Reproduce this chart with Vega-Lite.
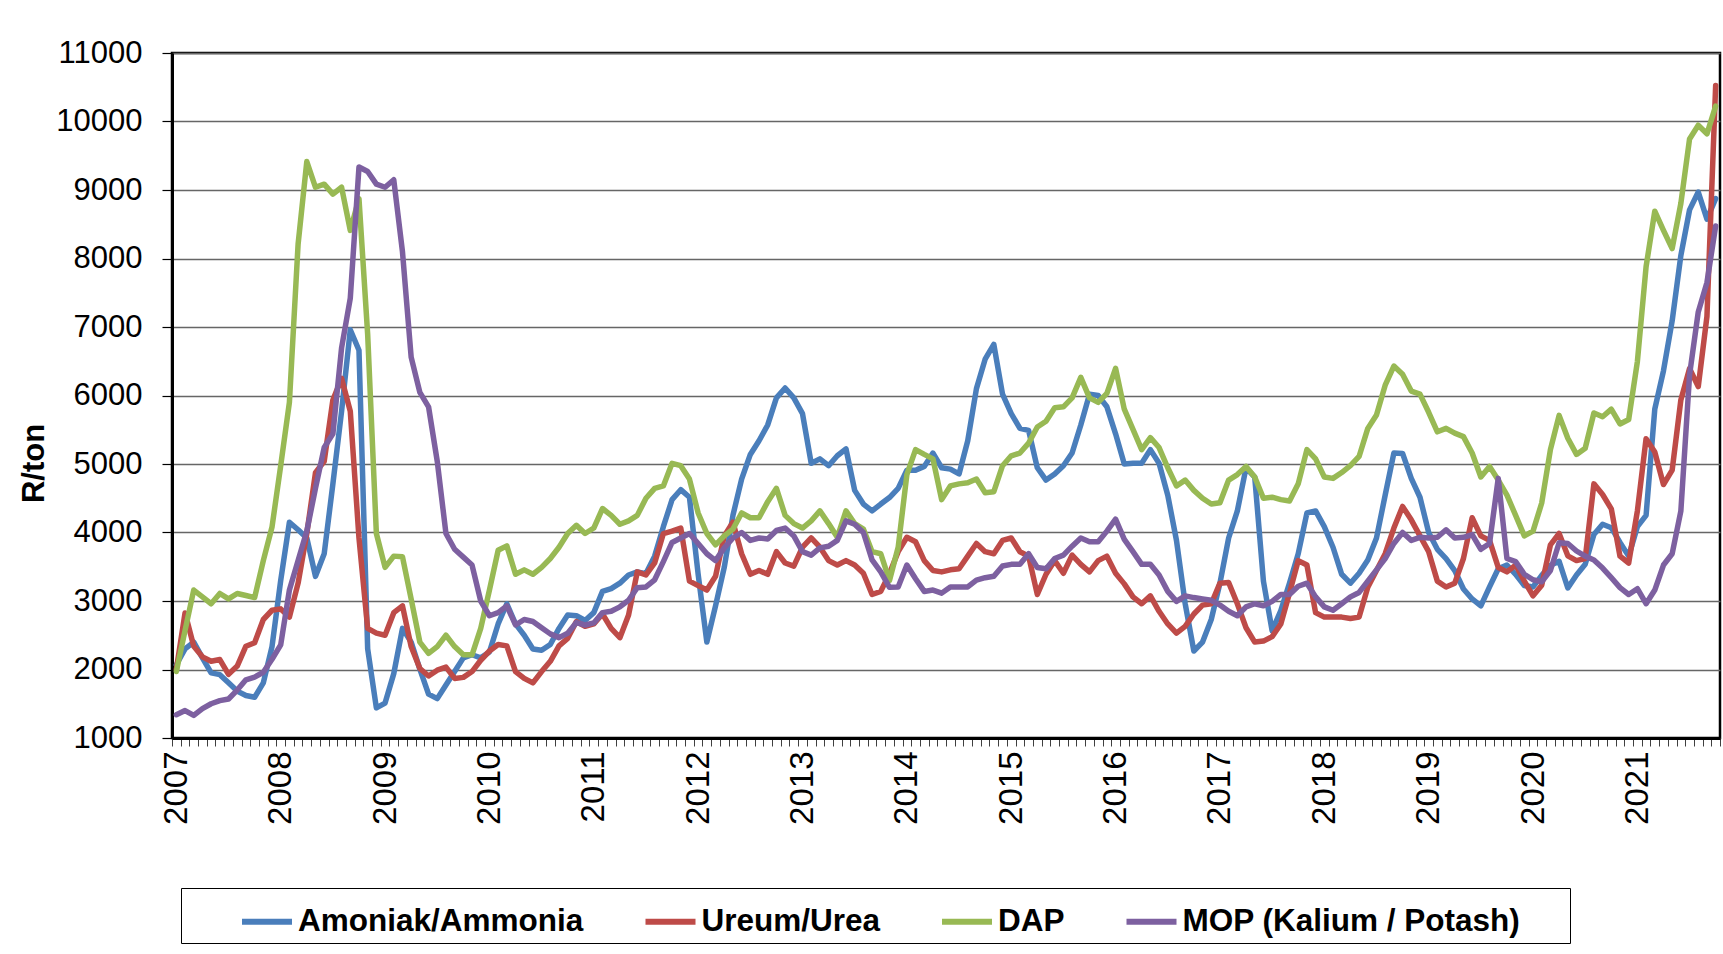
{
"$schema":"https://vega.github.io/schema/vega-lite/v6.json",
"width":1548,"height":685,
"autosize":{"type":"none"},
"padding":{"left":172,"top":53,"right":3,"bottom":216},
"background":"white",
"config":{"font":"Liberation Sans","view":{"stroke":"black","strokeWidth":2.5}},
"data":{"values":[
{"m":"2007-01","s":"A","v":2070},{"m":"2007-02","s":"A","v":2300},{"m":"2007-03","s":"A","v":2400},{"m":"2007-04","s":"A","v":2170},{"m":"2007-05","s":"A","v":1950},{"m":"2007-06","s":"A","v":1925},{"m":"2007-07","s":"A","v":1805},{"m":"2007-08","s":"A","v":1685},{"m":"2007-09","s":"A","v":1620},{"m":"2007-10","s":"A","v":1595},{"m":"2007-11","s":"A","v":1805},{"m":"2007-12","s":"A","v":2335},
{"m":"2008-01","s":"A","v":3300},{"m":"2008-02","s":"A","v":4150},{"m":"2008-03","s":"A","v":4040},{"m":"2008-04","s":"A","v":3920},{"m":"2008-05","s":"A","v":3360},{"m":"2008-06","s":"A","v":3690},{"m":"2008-07","s":"A","v":4710},{"m":"2008-08","s":"A","v":5770},{"m":"2008-09","s":"A","v":6960},{"m":"2008-10","s":"A","v":6660},{"m":"2008-11","s":"A","v":2300},{"m":"2008-12","s":"A","v":1440},
{"m":"2009-01","s":"A","v":1510},{"m":"2009-02","s":"A","v":1940},{"m":"2009-03","s":"A","v":2600},{"m":"2009-04","s":"A","v":2400},{"m":"2009-05","s":"A","v":2005},{"m":"2009-06","s":"A","v":1640},{"m":"2009-07","s":"A","v":1575},{"m":"2009-08","s":"A","v":1775},{"m":"2009-09","s":"A","v":1970},{"m":"2009-10","s":"A","v":2170},{"m":"2009-11","s":"A","v":2215},{"m":"2009-12","s":"A","v":2170},
{"m":"2010-01","s":"A","v":2255},{"m":"2010-02","s":"A","v":2665},{"m":"2010-03","s":"A","v":2960},{"m":"2010-04","s":"A","v":2665},{"m":"2010-05","s":"A","v":2500},{"m":"2010-06","s":"A","v":2300},{"m":"2010-07","s":"A","v":2280},{"m":"2010-08","s":"A","v":2365},{"m":"2010-09","s":"A","v":2600},{"m":"2010-10","s":"A","v":2795},{"m":"2010-11","s":"A","v":2785},{"m":"2010-12","s":"A","v":2715},
{"m":"2011-01","s":"A","v":2830},{"m":"2011-02","s":"A","v":3140},{"m":"2011-03","s":"A","v":3180},{"m":"2011-04","s":"A","v":3260},{"m":"2011-05","s":"A","v":3380},{"m":"2011-06","s":"A","v":3425},{"m":"2011-07","s":"A","v":3400},{"m":"2011-08","s":"A","v":3655},{"m":"2011-09","s":"A","v":4085},{"m":"2011-10","s":"A","v":4480},{"m":"2011-11","s":"A","v":4625},{"m":"2011-12","s":"A","v":4515},
{"m":"2012-01","s":"A","v":3390},{"m":"2012-02","s":"A","v":2400},{"m":"2012-03","s":"A","v":2930},{"m":"2012-04","s":"A","v":3490},{"m":"2012-05","s":"A","v":4250},{"m":"2012-06","s":"A","v":4780},{"m":"2012-07","s":"A","v":5140},{"m":"2012-08","s":"A","v":5340},{"m":"2012-09","s":"A","v":5570},{"m":"2012-10","s":"A","v":5965},{"m":"2012-11","s":"A","v":6110},{"m":"2012-12","s":"A","v":5965},
{"m":"2013-01","s":"A","v":5735},{"m":"2013-02","s":"A","v":5010},{"m":"2013-03","s":"A","v":5075},{"m":"2013-04","s":"A","v":4975},{"m":"2013-05","s":"A","v":5120},{"m":"2013-06","s":"A","v":5220},{"m":"2013-07","s":"A","v":4615},{"m":"2013-08","s":"A","v":4415},{"m":"2013-09","s":"A","v":4315},{"m":"2013-10","s":"A","v":4415},{"m":"2013-11","s":"A","v":4510},{"m":"2013-12","s":"A","v":4645},
{"m":"2014-01","s":"A","v":4910},{"m":"2014-02","s":"A","v":4910},{"m":"2014-03","s":"A","v":4965},{"m":"2014-04","s":"A","v":5160},{"m":"2014-05","s":"A","v":4945},{"m":"2014-06","s":"A","v":4925},{"m":"2014-07","s":"A","v":4855},{"m":"2014-08","s":"A","v":5340},{"m":"2014-09","s":"A","v":6100},{"m":"2014-10","s":"A","v":6530},{"m":"2014-11","s":"A","v":6745},{"m":"2014-12","s":"A","v":6020},
{"m":"2015-01","s":"A","v":5735},{"m":"2015-02","s":"A","v":5520},{"m":"2015-03","s":"A","v":5490},{"m":"2015-04","s":"A","v":4945},{"m":"2015-05","s":"A","v":4765},{"m":"2015-06","s":"A","v":4855},{"m":"2015-07","s":"A","v":4975},{"m":"2015-08","s":"A","v":5160},{"m":"2015-09","s":"A","v":5570},{"m":"2015-10","s":"A","v":6020},{"m":"2015-11","s":"A","v":6000},{"m":"2015-12","s":"A","v":5835},
{"m":"2016-01","s":"A","v":5440},{"m":"2016-02","s":"A","v":5000},{"m":"2016-03","s":"A","v":5010},{"m":"2016-04","s":"A","v":5010},{"m":"2016-05","s":"A","v":5210},{"m":"2016-06","s":"A","v":5010},{"m":"2016-07","s":"A","v":4545},{"m":"2016-08","s":"A","v":3885},{"m":"2016-09","s":"A","v":2965},{"m":"2016-10","s":"A","v":2270},{"m":"2016-11","s":"A","v":2400},{"m":"2016-12","s":"A","v":2730},
{"m":"2017-01","s":"A","v":3260},{"m":"2017-02","s":"A","v":3920},{"m":"2017-03","s":"A","v":4315},{"m":"2017-04","s":"A","v":4945},{"m":"2017-05","s":"A","v":4810},{"m":"2017-06","s":"A","v":3290},{"m":"2017-07","s":"A","v":2565},{"m":"2017-08","s":"A","v":2860},{"m":"2017-09","s":"A","v":3260},{"m":"2017-10","s":"A","v":3690},{"m":"2017-11","s":"A","v":4285},{"m":"2017-12","s":"A","v":4315},
{"m":"2018-01","s":"A","v":4085},{"m":"2018-02","s":"A","v":3785},{"m":"2018-03","s":"A","v":3390},{"m":"2018-04","s":"A","v":3260},{"m":"2018-05","s":"A","v":3405},{"m":"2018-06","s":"A","v":3600},{"m":"2018-07","s":"A","v":3920},{"m":"2018-08","s":"A","v":4545},{"m":"2018-09","s":"A","v":5160},{"m":"2018-10","s":"A","v":5155},{"m":"2018-11","s":"A","v":4790},{"m":"2018-12","s":"A","v":4515},
{"m":"2019-01","s":"A","v":4000},{"m":"2019-02","s":"A","v":3755},{"m":"2019-03","s":"A","v":3620},{"m":"2019-04","s":"A","v":3445},{"m":"2019-05","s":"A","v":3175},{"m":"2019-06","s":"A","v":3030},{"m":"2019-07","s":"A","v":2930},{"m":"2019-08","s":"A","v":3205},{"m":"2019-09","s":"A","v":3470},{"m":"2019-10","s":"A","v":3525},{"m":"2019-11","s":"A","v":3390},{"m":"2019-12","s":"A","v":3225},
{"m":"2020-01","s":"A","v":3205},{"m":"2020-02","s":"A","v":3375},{"m":"2020-03","s":"A","v":3520},{"m":"2020-04","s":"A","v":3580},{"m":"2020-05","s":"A","v":3190},{"m":"2020-06","s":"A","v":3380},{"m":"2020-07","s":"A","v":3535},{"m":"2020-08","s":"A","v":3970},{"m":"2020-09","s":"A","v":4120},{"m":"2020-10","s":"A","v":4070},{"m":"2020-11","s":"A","v":3855},{"m":"2020-12","s":"A","v":3655},
{"m":"2021-01","s":"A","v":4085},{"m":"2021-02","s":"A","v":4250},{"m":"2021-03","s":"A","v":5800},{"m":"2021-04","s":"A","v":6360},{"m":"2021-05","s":"A","v":7090},{"m":"2021-06","s":"A","v":8045},{"m":"2021-07","s":"A","v":8710},{"m":"2021-08","s":"A","v":8970},{"m":"2021-09","s":"A","v":8575},{"m":"2021-10","s":"A","v":8875},
{"m":"2007-01","s":"U","v":2000},{"m":"2007-02","s":"U","v":2825},{"m":"2007-03","s":"U","v":2340},{"m":"2007-04","s":"U","v":2185},{"m":"2007-05","s":"U","v":2120},{"m":"2007-06","s":"U","v":2145},{"m":"2007-07","s":"U","v":1930},{"m":"2007-08","s":"U","v":2050},{"m":"2007-09","s":"U","v":2340},{"m":"2007-10","s":"U","v":2390},{"m":"2007-11","s":"U","v":2730},{"m":"2007-12","s":"U","v":2865},
{"m":"2008-01","s":"U","v":2885},{"m":"2008-02","s":"U","v":2765},{"m":"2008-03","s":"U","v":3260},{"m":"2008-04","s":"U","v":3985},{"m":"2008-05","s":"U","v":4875},{"m":"2008-06","s":"U","v":5040},{"m":"2008-07","s":"U","v":5935},{"m":"2008-08","s":"U","v":6250},{"m":"2008-09","s":"U","v":5770},{"m":"2008-10","s":"U","v":3920},{"m":"2008-11","s":"U","v":2600},{"m":"2008-12","s":"U","v":2530},
{"m":"2009-01","s":"U","v":2500},{"m":"2009-02","s":"U","v":2830},{"m":"2009-03","s":"U","v":2930},{"m":"2009-04","s":"U","v":2335},{"m":"2009-05","s":"U","v":2015},{"m":"2009-06","s":"U","v":1905},{"m":"2009-07","s":"U","v":1990},{"m":"2009-08","s":"U","v":2035},{"m":"2009-09","s":"U","v":1870},{"m":"2009-10","s":"U","v":1885},{"m":"2009-11","s":"U","v":1970},{"m":"2009-12","s":"U","v":2135},
{"m":"2010-01","s":"U","v":2270},{"m":"2010-02","s":"U","v":2365},{"m":"2010-03","s":"U","v":2345},{"m":"2010-04","s":"U","v":1970},{"m":"2010-05","s":"U","v":1870},{"m":"2010-06","s":"U","v":1805},{"m":"2010-07","s":"U","v":1970},{"m":"2010-08","s":"U","v":2120},{"m":"2010-09","s":"U","v":2345},{"m":"2010-10","s":"U","v":2455},{"m":"2010-11","s":"U","v":2700},{"m":"2010-12","s":"U","v":2630},
{"m":"2011-01","s":"U","v":2665},{"m":"2011-02","s":"U","v":2810},{"m":"2011-03","s":"U","v":2600},{"m":"2011-04","s":"U","v":2465},{"m":"2011-05","s":"U","v":2795},{"m":"2011-06","s":"U","v":3425},{"m":"2011-07","s":"U","v":3380},{"m":"2011-08","s":"U","v":3555},{"m":"2011-09","s":"U","v":3985},{"m":"2011-10","s":"U","v":4020},{"m":"2011-11","s":"U","v":4065},{"m":"2011-12","s":"U","v":3290},
{"m":"2012-01","s":"U","v":3225},{"m":"2012-02","s":"U","v":3160},{"m":"2012-03","s":"U","v":3360},{"m":"2012-04","s":"U","v":3950},{"m":"2012-05","s":"U","v":4150},{"m":"2012-06","s":"U","v":3690},{"m":"2012-07","s":"U","v":3390},{"m":"2012-08","s":"U","v":3445},{"m":"2012-09","s":"U","v":3390},{"m":"2012-10","s":"U","v":3720},{"m":"2012-11","s":"U","v":3555},{"m":"2012-12","s":"U","v":3510},
{"m":"2013-01","s":"U","v":3785},{"m":"2013-02","s":"U","v":3920},{"m":"2013-03","s":"U","v":3785},{"m":"2013-04","s":"U","v":3590},{"m":"2013-05","s":"U","v":3525},{"m":"2013-06","s":"U","v":3590},{"m":"2013-07","s":"U","v":3525},{"m":"2013-08","s":"U","v":3405},{"m":"2013-09","s":"U","v":3095},{"m":"2013-10","s":"U","v":3140},{"m":"2013-11","s":"U","v":3400},{"m":"2013-12","s":"U","v":3720},
{"m":"2014-01","s":"U","v":3930},{"m":"2014-02","s":"U","v":3865},{"m":"2014-03","s":"U","v":3590},{"m":"2014-04","s":"U","v":3445},{"m":"2014-05","s":"U","v":3425},{"m":"2014-06","s":"U","v":3455},{"m":"2014-07","s":"U","v":3470},{"m":"2014-08","s":"U","v":3655},{"m":"2014-09","s":"U","v":3840},{"m":"2014-10","s":"U","v":3720},{"m":"2014-11","s":"U","v":3690},{"m":"2014-12","s":"U","v":3885},
{"m":"2015-01","s":"U","v":3920},{"m":"2015-02","s":"U","v":3720},{"m":"2015-03","s":"U","v":3655},{"m":"2015-04","s":"U","v":3095},{"m":"2015-05","s":"U","v":3390},{"m":"2015-06","s":"U","v":3590},{"m":"2015-07","s":"U","v":3405},{"m":"2015-08","s":"U","v":3670},{"m":"2015-09","s":"U","v":3535},{"m":"2015-10","s":"U","v":3425},{"m":"2015-11","s":"U","v":3590},{"m":"2015-12","s":"U","v":3655},
{"m":"2016-01","s":"U","v":3405},{"m":"2016-02","s":"U","v":3250},{"m":"2016-03","s":"U","v":3060},{"m":"2016-04","s":"U","v":2960},{"m":"2016-05","s":"U","v":3075},{"m":"2016-06","s":"U","v":2850},{"m":"2016-07","s":"U","v":2665},{"m":"2016-08","s":"U","v":2530},{"m":"2016-09","s":"U","v":2630},{"m":"2016-10","s":"U","v":2810},{"m":"2016-11","s":"U","v":2940},{"m":"2016-12","s":"U","v":2960},
{"m":"2017-01","s":"U","v":3260},{"m":"2017-02","s":"U","v":3270},{"m":"2017-03","s":"U","v":2960},{"m":"2017-04","s":"U","v":2610},{"m":"2017-05","s":"U","v":2400},{"m":"2017-06","s":"U","v":2415},{"m":"2017-07","s":"U","v":2480},{"m":"2017-08","s":"U","v":2665},{"m":"2017-09","s":"U","v":3115},{"m":"2017-10","s":"U","v":3590},{"m":"2017-11","s":"U","v":3525},{"m":"2017-12","s":"U","v":2830},
{"m":"2018-01","s":"U","v":2765},{"m":"2018-02","s":"U","v":2765},{"m":"2018-03","s":"U","v":2765},{"m":"2018-04","s":"U","v":2745},{"m":"2018-05","s":"U","v":2765},{"m":"2018-06","s":"U","v":3200},{"m":"2018-07","s":"U","v":3445},{"m":"2018-08","s":"U","v":3690},{"m":"2018-09","s":"U","v":4065},{"m":"2018-10","s":"U","v":4380},{"m":"2018-11","s":"U","v":4185},{"m":"2018-12","s":"U","v":3950},
{"m":"2019-01","s":"U","v":3720},{"m":"2019-02","s":"U","v":3290},{"m":"2019-03","s":"U","v":3205},{"m":"2019-04","s":"U","v":3260},{"m":"2019-05","s":"U","v":3620},{"m":"2019-06","s":"U","v":4215},{"m":"2019-07","s":"U","v":3950},{"m":"2019-08","s":"U","v":3885},{"m":"2019-09","s":"U","v":3490},{"m":"2019-10","s":"U","v":3425},{"m":"2019-11","s":"U","v":3525},{"m":"2019-12","s":"U","v":3290},
{"m":"2020-01","s":"U","v":3075},{"m":"2020-02","s":"U","v":3230},{"m":"2020-03","s":"U","v":3820},{"m":"2020-04","s":"U","v":3985},{"m":"2020-05","s":"U","v":3660},{"m":"2020-06","s":"U","v":3590},{"m":"2020-07","s":"U","v":3620},{"m":"2020-08","s":"U","v":4710},{"m":"2020-09","s":"U","v":4555},{"m":"2020-10","s":"U","v":4345},{"m":"2020-11","s":"U","v":3655},{"m":"2020-12","s":"U","v":3555},
{"m":"2021-01","s":"U","v":4315},{"m":"2021-02","s":"U","v":5370},{"m":"2021-03","s":"U","v":5175},{"m":"2021-04","s":"U","v":4700},{"m":"2021-05","s":"U","v":4910},{"m":"2021-06","s":"U","v":5935},{"m":"2021-07","s":"U","v":6395},{"m":"2021-08","s":"U","v":6130},{"m":"2021-09","s":"U","v":7155},{"m":"2021-10","s":"U","v":10525},
{"m":"2007-01","s":"D","v":1970},{"m":"2007-02","s":"D","v":2570},{"m":"2007-03","s":"D","v":3160},{"m":"2007-04","s":"D","v":3060},{"m":"2007-05","s":"D","v":2960},{"m":"2007-06","s":"D","v":3110},{"m":"2007-07","s":"D","v":3030},{"m":"2007-08","s":"D","v":3110},{"m":"2007-09","s":"D","v":3080},{"m":"2007-10","s":"D","v":3050},{"m":"2007-11","s":"D","v":3590},{"m":"2007-12","s":"D","v":4080},
{"m":"2008-01","s":"D","v":4975},{"m":"2008-02","s":"D","v":5900},{"m":"2008-03","s":"D","v":8210},{"m":"2008-04","s":"D","v":9415},{"m":"2008-05","s":"D","v":9040},{"m":"2008-06","s":"D","v":9085},{"m":"2008-07","s":"D","v":8940},{"m":"2008-08","s":"D","v":9040},{"m":"2008-09","s":"D","v":8410},{"m":"2008-10","s":"D","v":8875},{"m":"2008-11","s":"D","v":6890},{"m":"2008-12","s":"D","v":3985},
{"m":"2009-01","s":"D","v":3490},{"m":"2009-02","s":"D","v":3655},{"m":"2009-03","s":"D","v":3645},{"m":"2009-04","s":"D","v":3030},{"m":"2009-05","s":"D","v":2400},{"m":"2009-06","s":"D","v":2235},{"m":"2009-07","s":"D","v":2335},{"m":"2009-08","s":"D","v":2500},{"m":"2009-09","s":"D","v":2335},{"m":"2009-10","s":"D","v":2215},{"m":"2009-11","s":"D","v":2215},{"m":"2009-12","s":"D","v":2600},
{"m":"2010-01","s":"D","v":3160},{"m":"2010-02","s":"D","v":3740},{"m":"2010-03","s":"D","v":3805},{"m":"2010-04","s":"D","v":3390},{"m":"2010-05","s":"D","v":3455},{"m":"2010-06","s":"D","v":3390},{"m":"2010-07","s":"D","v":3490},{"m":"2010-08","s":"D","v":3620},{"m":"2010-09","s":"D","v":3785},{"m":"2010-10","s":"D","v":3985},{"m":"2010-11","s":"D","v":4105},{"m":"2010-12","s":"D","v":3985},
{"m":"2011-01","s":"D","v":4065},{"m":"2011-02","s":"D","v":4350},{"m":"2011-03","s":"D","v":4250},{"m":"2011-04","s":"D","v":4120},{"m":"2011-05","s":"D","v":4170},{"m":"2011-06","s":"D","v":4250},{"m":"2011-07","s":"D","v":4500},{"m":"2011-08","s":"D","v":4645},{"m":"2011-09","s":"D","v":4680},{"m":"2011-10","s":"D","v":5010},{"m":"2011-11","s":"D","v":4975},{"m":"2011-12","s":"D","v":4780},
{"m":"2012-01","s":"D","v":4285},{"m":"2012-02","s":"D","v":3985},{"m":"2012-03","s":"D","v":3820},{"m":"2012-04","s":"D","v":3950},{"m":"2012-05","s":"D","v":4050},{"m":"2012-06","s":"D","v":4285},{"m":"2012-07","s":"D","v":4215},{"m":"2012-08","s":"D","v":4215},{"m":"2012-09","s":"D","v":4450},{"m":"2012-10","s":"D","v":4645},{"m":"2012-11","s":"D","v":4250},{"m":"2012-12","s":"D","v":4130},
{"m":"2013-01","s":"D","v":4065},{"m":"2013-02","s":"D","v":4170},{"m":"2013-03","s":"D","v":4315},{"m":"2013-04","s":"D","v":4130},{"m":"2013-05","s":"D","v":3930},{"m":"2013-06","s":"D","v":4315},{"m":"2013-07","s":"D","v":4130},{"m":"2013-08","s":"D","v":4050},{"m":"2013-09","s":"D","v":3720},{"m":"2013-10","s":"D","v":3690},{"m":"2013-11","s":"D","v":3300},{"m":"2013-12","s":"D","v":3785},
{"m":"2014-01","s":"D","v":4845},{"m":"2014-02","s":"D","v":5210},{"m":"2014-03","s":"D","v":5140},{"m":"2014-04","s":"D","v":5075},{"m":"2014-05","s":"D","v":4480},{"m":"2014-06","s":"D","v":4680},{"m":"2014-07","s":"D","v":4710},{"m":"2014-08","s":"D","v":4725},{"m":"2014-09","s":"D","v":4780},{"m":"2014-10","s":"D","v":4580},{"m":"2014-11","s":"D","v":4595},{"m":"2014-12","s":"D","v":4975},
{"m":"2015-01","s":"D","v":5120},{"m":"2015-02","s":"D","v":5160},{"m":"2015-03","s":"D","v":5305},{"m":"2015-04","s":"D","v":5540},{"m":"2015-05","s":"D","v":5625},{"m":"2015-06","s":"D","v":5820},{"m":"2015-07","s":"D","v":5835},{"m":"2015-08","s":"D","v":5965},{"m":"2015-09","s":"D","v":6265},{"m":"2015-10","s":"D","v":5965},{"m":"2015-11","s":"D","v":5900},{"m":"2015-12","s":"D","v":6030},
{"m":"2016-01","s":"D","v":6395},{"m":"2016-02","s":"D","v":5800},{"m":"2016-03","s":"D","v":5505},{"m":"2016-04","s":"D","v":5210},{"m":"2016-05","s":"D","v":5385},{"m":"2016-06","s":"D","v":5240},{"m":"2016-07","s":"D","v":4945},{"m":"2016-08","s":"D","v":4680},{"m":"2016-09","s":"D","v":4765},{"m":"2016-10","s":"D","v":4615},{"m":"2016-11","s":"D","v":4500},{"m":"2016-12","s":"D","v":4415},
{"m":"2017-01","s":"D","v":4435},{"m":"2017-02","s":"D","v":4765},{"m":"2017-03","s":"D","v":4845},{"m":"2017-04","s":"D","v":4965},{"m":"2017-05","s":"D","v":4810},{"m":"2017-06","s":"D","v":4500},{"m":"2017-07","s":"D","v":4515},{"m":"2017-08","s":"D","v":4480},{"m":"2017-09","s":"D","v":4460},{"m":"2017-10","s":"D","v":4710},{"m":"2017-11","s":"D","v":5210},{"m":"2017-12","s":"D","v":5075},
{"m":"2018-01","s":"D","v":4810},{"m":"2018-02","s":"D","v":4790},{"m":"2018-03","s":"D","v":4875},{"m":"2018-04","s":"D","v":4975},{"m":"2018-05","s":"D","v":5110},{"m":"2018-06","s":"D","v":5520},{"m":"2018-07","s":"D","v":5715},{"m":"2018-08","s":"D","v":6150},{"m":"2018-09","s":"D","v":6430},{"m":"2018-10","s":"D","v":6310},{"m":"2018-11","s":"D","v":6065},{"m":"2018-12","s":"D","v":6020},
{"m":"2019-01","s":"D","v":5755},{"m":"2019-02","s":"D","v":5470},{"m":"2019-03","s":"D","v":5520},{"m":"2019-04","s":"D","v":5450},{"m":"2019-05","s":"D","v":5400},{"m":"2019-06","s":"D","v":5160},{"m":"2019-07","s":"D","v":4810},{"m":"2019-08","s":"D","v":4965},{"m":"2019-09","s":"D","v":4765},{"m":"2019-10","s":"D","v":4545},{"m":"2019-11","s":"D","v":4250},{"m":"2019-12","s":"D","v":3950},
{"m":"2020-01","s":"D","v":4020},{"m":"2020-02","s":"D","v":4430},{"m":"2020-03","s":"D","v":5210},{"m":"2020-04","s":"D","v":5710},{"m":"2020-05","s":"D","v":5375},{"m":"2020-06","s":"D","v":5140},{"m":"2020-07","s":"D","v":5230},{"m":"2020-08","s":"D","v":5745},{"m":"2020-09","s":"D","v":5690},{"m":"2020-10","s":"D","v":5800},{"m":"2020-11","s":"D","v":5585},{"m":"2020-12","s":"D","v":5650},
{"m":"2021-01","s":"D","v":6495},{"m":"2021-02","s":"D","v":7880},{"m":"2021-03","s":"D","v":8690},{"m":"2021-04","s":"D","v":8410},{"m":"2021-05","s":"D","v":8145},{"m":"2021-06","s":"D","v":8805},{"m":"2021-07","s":"D","v":9745},{"m":"2021-08","s":"D","v":9945},{"m":"2021-09","s":"D","v":9820},{"m":"2021-10","s":"D","v":10225},
{"m":"2007-01","s":"M","v":1340},{"m":"2007-02","s":"M","v":1400},{"m":"2007-03","s":"M","v":1330},{"m":"2007-04","s":"M","v":1430},{"m":"2007-05","s":"M","v":1500},{"m":"2007-06","s":"M","v":1545},{"m":"2007-07","s":"M","v":1570},{"m":"2007-08","s":"M","v":1700},{"m":"2007-09","s":"M","v":1850},{"m":"2007-10","s":"M","v":1890},{"m":"2007-11","s":"M","v":1960},{"m":"2007-12","s":"M","v":2150},
{"m":"2008-01","s":"M","v":2360},{"m":"2008-02","s":"M","v":3160},{"m":"2008-03","s":"M","v":3590},{"m":"2008-04","s":"M","v":4020},{"m":"2008-05","s":"M","v":4645},{"m":"2008-06","s":"M","v":5240},{"m":"2008-07","s":"M","v":5440},{"m":"2008-08","s":"M","v":6695},{"m":"2008-09","s":"M","v":7420},{"m":"2008-10","s":"M","v":9335},{"m":"2008-11","s":"M","v":9270},{"m":"2008-12","s":"M","v":9085},
{"m":"2009-01","s":"M","v":9040},{"m":"2009-02","s":"M","v":9150},{"m":"2009-03","s":"M","v":8100},{"m":"2009-04","s":"M","v":6560},{"m":"2009-05","s":"M","v":6045},{"m":"2009-06","s":"M","v":5835},{"m":"2009-07","s":"M","v":5040},{"m":"2009-08","s":"M","v":3985},{"m":"2009-09","s":"M","v":3755},{"m":"2009-10","s":"M","v":3640},{"m":"2009-11","s":"M","v":3525},{"m":"2009-12","s":"M","v":3000},
{"m":"2010-01","s":"M","v":2785},{"m":"2010-02","s":"M","v":2830},{"m":"2010-03","s":"M","v":2930},{"m":"2010-04","s":"M","v":2650},{"m":"2010-05","s":"M","v":2730},{"m":"2010-06","s":"M","v":2700},{"m":"2010-07","s":"M","v":2610},{"m":"2010-08","s":"M","v":2520},{"m":"2010-09","s":"M","v":2465},{"m":"2010-10","s":"M","v":2530},{"m":"2010-11","s":"M","v":2685},{"m":"2010-12","s":"M","v":2650},
{"m":"2011-01","s":"M","v":2680},{"m":"2011-02","s":"M","v":2830},{"m":"2011-03","s":"M","v":2850},{"m":"2011-04","s":"M","v":2915},{"m":"2011-05","s":"M","v":3010},{"m":"2011-06","s":"M","v":3195},{"m":"2011-07","s":"M","v":3205},{"m":"2011-08","s":"M","v":3310},{"m":"2011-09","s":"M","v":3575},{"m":"2011-10","s":"M","v":3855},{"m":"2011-11","s":"M","v":3920},{"m":"2011-12","s":"M","v":3985},
{"m":"2012-01","s":"M","v":3840},{"m":"2012-02","s":"M","v":3690},{"m":"2012-03","s":"M","v":3590},{"m":"2012-04","s":"M","v":3775},{"m":"2012-05","s":"M","v":3920},{"m":"2012-06","s":"M","v":4000},{"m":"2012-07","s":"M","v":3885},{"m":"2012-08","s":"M","v":3920},{"m":"2012-09","s":"M","v":3905},{"m":"2012-10","s":"M","v":4030},{"m":"2012-11","s":"M","v":4065},{"m":"2012-12","s":"M","v":3950},
{"m":"2013-01","s":"M","v":3720},{"m":"2013-02","s":"M","v":3670},{"m":"2013-03","s":"M","v":3775},{"m":"2013-04","s":"M","v":3800},{"m":"2013-05","s":"M","v":3885},{"m":"2013-06","s":"M","v":4170},{"m":"2013-07","s":"M","v":4120},{"m":"2013-08","s":"M","v":4000},{"m":"2013-09","s":"M","v":3600},{"m":"2013-10","s":"M","v":3425},{"m":"2013-11","s":"M","v":3200},{"m":"2013-12","s":"M","v":3205},
{"m":"2014-01","s":"M","v":3525},{"m":"2014-02","s":"M","v":3325},{"m":"2014-03","s":"M","v":3140},{"m":"2014-04","s":"M","v":3160},{"m":"2014-05","s":"M","v":3115},{"m":"2014-06","s":"M","v":3205},{"m":"2014-07","s":"M","v":3205},{"m":"2014-08","s":"M","v":3205},{"m":"2014-09","s":"M","v":3305},{"m":"2014-10","s":"M","v":3340},{"m":"2014-11","s":"M","v":3360},{"m":"2014-12","s":"M","v":3510},
{"m":"2015-01","s":"M","v":3535},{"m":"2015-02","s":"M","v":3535},{"m":"2015-03","s":"M","v":3690},{"m":"2015-04","s":"M","v":3490},{"m":"2015-05","s":"M","v":3470},{"m":"2015-06","s":"M","v":3620},{"m":"2015-07","s":"M","v":3670},{"m":"2015-08","s":"M","v":3800},{"m":"2015-09","s":"M","v":3920},{"m":"2015-10","s":"M","v":3865},{"m":"2015-11","s":"M","v":3865},{"m":"2015-12","s":"M","v":4020},
{"m":"2016-01","s":"M","v":4195},{"m":"2016-02","s":"M","v":3900},{"m":"2016-03","s":"M","v":3720},{"m":"2016-04","s":"M","v":3535},{"m":"2016-05","s":"M","v":3535},{"m":"2016-06","s":"M","v":3380},{"m":"2016-07","s":"M","v":3140},{"m":"2016-08","s":"M","v":2995},{"m":"2016-09","s":"M","v":3075},{"m":"2016-10","s":"M","v":3050},{"m":"2016-11","s":"M","v":3030},{"m":"2016-12","s":"M","v":3010},
{"m":"2017-01","s":"M","v":2940},{"m":"2017-02","s":"M","v":2850},{"m":"2017-03","s":"M","v":2785},{"m":"2017-04","s":"M","v":2915},{"m":"2017-05","s":"M","v":2960},{"m":"2017-06","s":"M","v":2930},{"m":"2017-07","s":"M","v":2995},{"m":"2017-08","s":"M","v":3095},{"m":"2017-09","s":"M","v":3095},{"m":"2017-10","s":"M","v":3215},{"m":"2017-11","s":"M","v":3260},{"m":"2017-12","s":"M","v":3060},
{"m":"2018-01","s":"M","v":2915},{"m":"2018-02","s":"M","v":2865},{"m":"2018-03","s":"M","v":2960},{"m":"2018-04","s":"M","v":3060},{"m":"2018-05","s":"M","v":3125},{"m":"2018-06","s":"M","v":3290},{"m":"2018-07","s":"M","v":3455},{"m":"2018-08","s":"M","v":3620},{"m":"2018-09","s":"M","v":3840},{"m":"2018-10","s":"M","v":4000},{"m":"2018-11","s":"M","v":3885},{"m":"2018-12","s":"M","v":3930},
{"m":"2019-01","s":"M","v":3920},{"m":"2019-02","s":"M","v":3930},{"m":"2019-03","s":"M","v":4040},{"m":"2019-04","s":"M","v":3920},{"m":"2019-05","s":"M","v":3930},{"m":"2019-06","s":"M","v":3970},{"m":"2019-07","s":"M","v":3755},{"m":"2019-08","s":"M","v":3840},{"m":"2019-09","s":"M","v":4790},{"m":"2019-10","s":"M","v":3620},{"m":"2019-11","s":"M","v":3575},{"m":"2019-12","s":"M","v":3390},
{"m":"2020-01","s":"M","v":3310},{"m":"2020-02","s":"M","v":3280},{"m":"2020-03","s":"M","v":3445},{"m":"2020-04","s":"M","v":3850},{"m":"2020-05","s":"M","v":3840},{"m":"2020-06","s":"M","v":3730},{"m":"2020-07","s":"M","v":3655},{"m":"2020-08","s":"M","v":3600},{"m":"2020-09","s":"M","v":3480},{"m":"2020-10","s":"M","v":3340},{"m":"2020-11","s":"M","v":3195},{"m":"2020-12","s":"M","v":3095},
{"m":"2021-01","s":"M","v":3180},{"m":"2021-02","s":"M","v":2960},{"m":"2021-03","s":"M","v":3160},{"m":"2021-04","s":"M","v":3525},{"m":"2021-05","s":"M","v":3690},{"m":"2021-06","s":"M","v":4315},{"m":"2021-07","s":"M","v":6300},{"m":"2021-08","s":"M","v":7220},{"m":"2021-09","s":"M","v":7650},{"m":"2021-10","s":"M","v":8475}
]},
"mark":{"type":"line","strokeWidth":5.5,"strokeJoin":"round","strokeCap":"round"},
"encoding":{
"x":{"field":"m","type":"ordinal","bandPosition":0.5,
"scale":{"type":"band","paddingInner":0,"paddingOuter":0},
"axis":{"title":null,"labelExpr":"substring(datum.value,5,7)=='01' ? substring(datum.value,0,4) : ''","labelAngle":270,"labelFont":"Liberation Sans","labelFontSize":33,"labelColor":"black","labelPadding":5,"labelOverlap":false,"labelBound":false,"labelFlush":false,"tickBand":"extent","tickSize":8,"tickColor":"#404040","tickWidth":1,"domainColor":"black","domainWidth":3,"grid":false}},
"y":{"field":"v","type":"quantitative",
"scale":{"domain":[1000,11000],"nice":false,"zero":false},
"axis":{"title":"R/ton","titleFont":"Liberation Sans","titleFontSize":31,"titleFontWeight":"bold","titleColor":"black","titleX":-129,"titleY":410,"titleBaseline":"alphabetic","titleAngle":270,
"values":[1000,2000,3000,4000,5000,6000,7000,8000,9000,10000,11000],"format":"d","labelFont":"Liberation Sans","labelFontSize":31,"labelColor":"black","labelPadding":20,"tickSize":10,"tickColor":"black","tickWidth":1.2,"domainColor":"black","domainWidth":3,"grid":true,"gridColor":"#666666","gridWidth":1.3}},
"color":{"field":"s","type":"nominal",
"scale":{"domain":["A","U","D","M"],"range":["#4A7EBB","#BE4B48","#98B954","#7D60A0"]},
"legend":{"orient":"none","legendX":9,"legendY":835,"direction":"horizontal","title":"\u00a0","titleOrient":"left","titlePadding":52.5,"titleFontSize":31,"padding":5.5,"strokeColor":"black","fillColor":"white","symbolType":"stroke","symbolSize":2500,"symbolStrokeWidth":6,"labelFont":"Liberation Sans","labelFontSize":31.5,"labelFontWeight":"bold","labelColor":"black","labelOffset":3,"columnPadding":49.5,"labelLimit":1000,
"labelExpr":"datum.value=='A' ? 'Amoniak/Ammonia' : datum.value=='U' ? 'Ureum/Urea' : datum.value=='D' ? 'DAP' : 'MOP (Kalium / Potash)\u00a0\u00a0\u00a0\u00a0\u00a0\u200b'"}}
}
}
